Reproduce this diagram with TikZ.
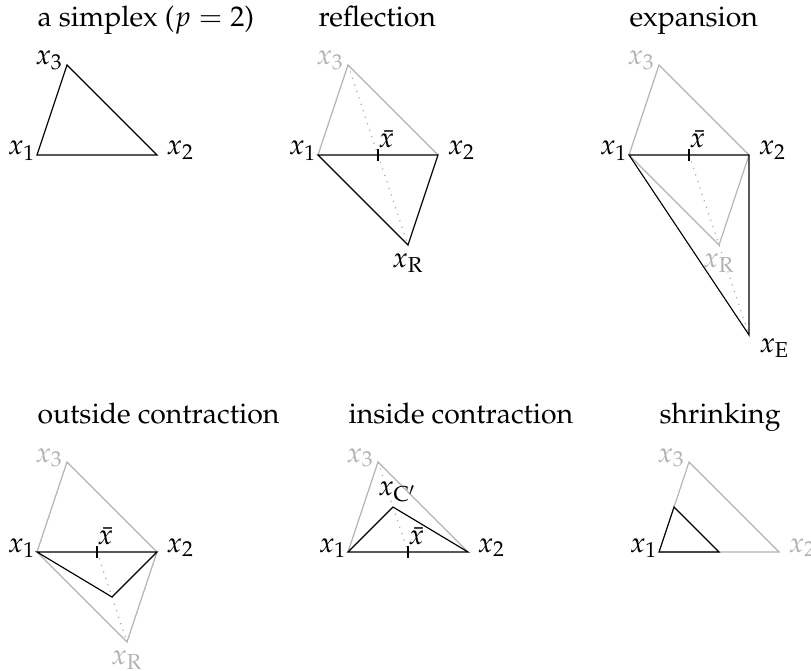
\documentclass[tikz,border=0pt]{standalone}
\usepackage[T1]{fontenc}
\usepackage{mathpazo}
\begin{document}
\begin{tikzpicture}[x=0.3521pt,y=-0.3521pt,
  old/.style={draw=black!30},
  new/.style={draw=black},
  dots/.style={draw=black!35, dotted},
  ttl/.style={anchor=base west, inner sep=0pt},
  lone/.style={anchor=base east, inner sep=0pt, xshift=-0.3pt},
  ltwo/.style={anchor=base west, inner sep=0pt, xshift=3.2pt},
  lthree/.style={anchor=base east, inner sep=0pt, xshift=-1.2pt},
  lbar/.style={anchor=base west, inner sep=0pt, yshift=2.5pt},
  lbelow/.style={anchor=north, inner sep=0pt, yshift=-2.8pt},
  faded/.style={text=black!30}]
\useasboundingbox (0,0) rectangle (811,671);
\clip (0,0) rectangle (811,671);
% ---------- simplex
\begin{scope}[shift={(37,155)}]
\coordinate (a1) at (0,0); \coordinate (a2) at (120,0); \coordinate (a3) at (30,-90);
\node[ttl] (at) at (0,-128) {a simplex ($p=2$)};
\draw[new] (a1) -- (a2) -- (a3) -- cycle;
\node[lone] (la1) at (a1) {$x_1$};
\node[ltwo] (la2) at (a2) {$x_2$};
\node[lthree] (la3) at (a3) {$x_3$};
\end{scope}
% ---------- reflection
\begin{scope}[shift={(318,155)}]
\coordinate (r1) at (0,0); \coordinate (r2) at (120,0); \coordinate (r3) at (30,-90);
\coordinate (rb) at (60,0); \coordinate (rR) at (90,90);
\coordinate (rbt) at (60,-6); \coordinate (rbb) at (60,6);
\node[ttl] (rt) at (0,-128) {reflection};
\draw[old] (r1) -- (r3) -- (r2);
\draw[dots] (r3) -- (rR);
\draw[new] (r1) -- (r2) -- (rR) -- cycle;
\draw[new] (rbt) -- (rbb);
\node[lone] (lr1) at (r1) {$x_1$};
\node[ltwo] (lr2) at (r2) {$x_2$};
\node[lthree,faded] (lr3) at (r3) {$x_3$};
\node[lbar] (lrb) at (rb) {$\bar{x}$};
\node[lbelow] (lrR) at (rR) {$x_{\mathrm{R}}$};
\end{scope}
% ---------- expansion
\begin{scope}[shift={(629,155)}]
\coordinate (e1) at (0,0); \coordinate (e2) at (120,0); \coordinate (e3) at (30,-90);
\coordinate (eb) at (60,0); \coordinate (eR) at (90,90); \coordinate (eE) at (120,180);
\coordinate (ebt) at (60,-6); \coordinate (ebb) at (60,6);
\node[ttl] (et) at (0,-128) {expansion};
\draw[old] (e1) -- (e3) -- (e2);
\draw[old] (e1) -- (eR) -- (e2);
\draw[dots] (eb) -- (eE);
\draw[new] (e1) -- (e2) -- (eE) -- cycle;
\draw[new] (ebt) -- (ebb);
\node[lone] (le1) at (e1) {$x_1$};
\node[ltwo] (le2) at (e2) {$x_2$};
\node[lthree,faded] (le3) at (e3) {$x_3$};
\node[lbar] (leb) at (eb) {$\bar{x}$};
\node[lbelow,faded] (leR) at (eR) {$x_{\mathrm{R}}$};
\node[anchor=north west, inner sep=0pt, xshift=3.5pt, yshift=-1pt] (leE) at (eE) {$x_{\mathrm{E}}$};
\end{scope}
% ---------- outside contraction
\begin{scope}[shift={(37,552)}]
\coordinate (o1) at (0,0); \coordinate (o2) at (120,0); \coordinate (o3) at (30,-90);
\coordinate (ob) at (60,0); \coordinate (oR) at (90,90); \coordinate (oC) at (75,45);
\coordinate (obt) at (60,-6); \coordinate (obb) at (60,6);
\node[ttl] (ot) at (0,-128) {outside contraction};
\draw[old] (o1) -- (o3) -- (o2);
\draw[old] (o1) -- (oR) -- (o2);
\draw[dots] (ob) -- (oR);
\draw[new] (o1) -- (o2) -- (oC) -- cycle;
\draw[new] (obt) -- (obb);
\node[lone] (lo1) at (o1) {$x_1$};
\node[ltwo] (lo2) at (o2) {$x_2$};
\node[lthree,faded] (lo3) at (o3) {$x_3$};
\node[lbar] (lob) at (ob) {$\bar{x}$};
\node[lbelow,faded] (loR) at (oR) {$x_{\mathrm{R}}$};
\end{scope}
% ---------- inside contraction
\begin{scope}[shift={(348,552)}]
\coordinate (i1) at (0,0); \coordinate (i2) at (120,0); \coordinate (i3) at (30,-90);
\coordinate (ib) at (60,0); \coordinate (iC) at (45,-45);
\coordinate (ibt) at (60,-6); \coordinate (ibb) at (60,6);
\node[ttl] (it) at (0,-128) {inside contraction};
\draw[old] (i1) -- (i3) -- (i2);
\draw[dots] (i3) -- (ib);
\draw[new] (i1) -- (i2) -- (iC) -- cycle;
\draw[new] (ibt) -- (ibb);
\node[lone] (li1) at (i1) {$x_1$};
\node[ltwo] (li2) at (i2) {$x_2$};
\node[lthree,faded] (li3) at (i3) {$x_3$};
\node[lbar] (lib) at (ib) {$\bar{x}$};
\node[anchor=base west, inner sep=0pt, xshift=-5.4pt, yshift=4pt] (liC) at (iC) {$x_{\mathrm{C}'}$};
\end{scope}
% ---------- shrinking
\begin{scope}[shift={(659,552)}]
\coordinate (s1) at (0,0); \coordinate (s2) at (120,0); \coordinate (s3) at (30,-90);
\coordinate (s12) at (60,0); \coordinate (s13) at (15,-45);
\node[ttl] (st) at (0,-128) {shrinking};
\draw[old] (s1) -- (s3) -- (s2) -- cycle;
\draw[new] (s1) -- (s12) -- (s13) -- cycle;
\node[lone] (ls1) at (s1) {$x_1$};
\node[ltwo,faded] (ls2) at (s2) {$x_2$};
\node[lthree,faded] (ls3) at (s3) {$x_3$};
\end{scope}
\end{tikzpicture}
\end{document}
